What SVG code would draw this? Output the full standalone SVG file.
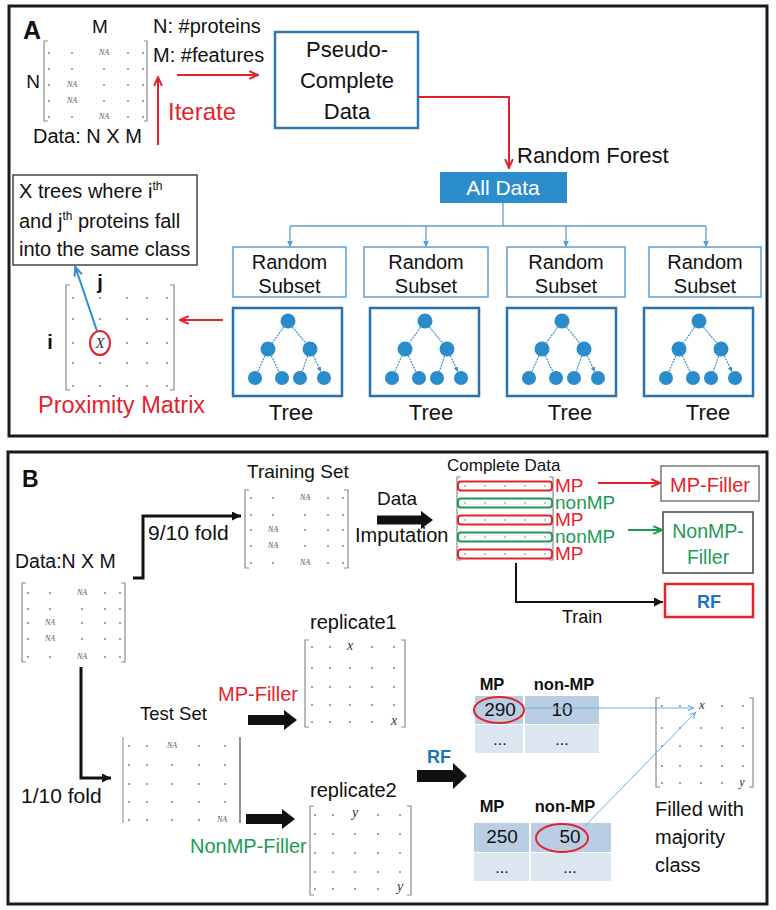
<svg xmlns="http://www.w3.org/2000/svg" width="776" height="910" viewBox="0 0 776 910">
<style>
.t{font-family:"Liberation Sans",Arial,sans-serif;fill:#111}
.b{font-weight:bold}
.m{text-anchor:middle}
.na{font-family:"Liberation Serif",serif;font-style:italic;font-size:8px;fill:#555;text-anchor:middle}
.iv{font-family:"Liberation Serif",serif;font-style:italic;font-size:14px;fill:#333;text-anchor:middle}
.br{fill:none;stroke:#8a8a8a;stroke-width:1.2}
.d circle{fill:#777}
.red{fill:#e3232c}
.grn{fill:#1d9a55}
.blu{fill:#1a75bc}
.frame{fill:none;stroke:#1a1a1a;stroke-width:3}
.rs{fill:#fff;stroke:#5d9fd3;stroke-width:1.5}
.tb{fill:#fff;stroke:#2672ad;stroke-width:2.5}
.nd{fill:#2a8ccb}
.te{stroke:#3d8fcb;stroke-width:1.2;stroke-dasharray:2 1;fill:none;marker-end:url(#mt)}
.bl{stroke:#5d9fd3;stroke-width:1.3;fill:none}
.rl{stroke:#e3232c;stroke-width:2;fill:none}
.kl{stroke:#111;stroke-width:3;fill:none}
</style>
<defs>
<marker id="mr" viewBox="0 0 10 10" refX="9" refY="5" markerWidth="11" markerHeight="11" markerUnits="userSpaceOnUse" orient="auto"><path d="M1,1.5 L9,5 L1,8.5" fill="none" stroke="#e3232c" stroke-width="1.8"/></marker>
<marker id="mg" viewBox="0 0 10 10" refX="9" refY="5" markerWidth="11" markerHeight="11" markerUnits="userSpaceOnUse" orient="auto"><path d="M1,1.5 L9,5 L1,8.5" fill="none" stroke="#1d9a55" stroke-width="1.8"/></marker>
<marker id="mk" viewBox="0 0 10 10" refX="10" refY="5" markerWidth="9" markerHeight="9" markerUnits="userSpaceOnUse" orient="auto"><path d="M0,0 L10,5 L0,10 z" fill="#111"/></marker>
<marker id="mb" viewBox="0 0 10 10" refX="10" refY="5" markerWidth="6" markerHeight="6" markerUnits="userSpaceOnUse" orient="auto"><path d="M0,0 L10,5 L0,10 z" fill="#5d9fd3"/></marker>
<marker id="mb2" viewBox="0 0 10 10" refX="10" refY="5" markerWidth="11" markerHeight="11" markerUnits="userSpaceOnUse" orient="auto"><path d="M1,1.5 L9,5 L1,8.5" fill="none" stroke="#2b8dcc" stroke-width="1.8"/></marker>
<marker id="mlb" viewBox="0 0 10 10" refX="10" refY="5" markerWidth="7" markerHeight="7" markerUnits="userSpaceOnUse" orient="auto"><path d="M1,1 L9,5 L1,9" fill="none" stroke="#6aaee0" stroke-width="1.5"/></marker>
<marker id="mt" viewBox="0 0 10 10" refX="10" refY="5" markerWidth="4.5" markerHeight="4.5" markerUnits="userSpaceOnUse" orient="auto"><path d="M0,0 L10,5 L0,10 z" fill="#3d8fcb"/></marker>
<g id="tree">
<path class="te" d="M50.6,19.1 L39.4,34.9 M59.4,19.1 L72.6,34.9 M31.9,47.8 L24.9,63.6 M38.3,47.8 L45.9,63.7 M74.6,48.1 L69.3,63.4 M80.3,47.8 L87.9,63.7"/>
<circle class="nd" cx="55" cy="13" r="7.5"/>
<circle class="nd" cx="35" cy="41" r="7.5"/><circle class="nd" cx="77" cy="41" r="7.5"/>
<circle class="nd" cx="22" cy="70" r="7"/><circle class="nd" cx="49" cy="70" r="7"/><circle class="nd" cx="67" cy="70" r="7"/><circle class="nd" cx="91" cy="70" r="7"/>
</g>
</defs>
<rect width="776" height="910" fill="#fff"/>

<!-- Panel A -->
<g id="panelA">
<rect class="frame" x="9" y="6" width="758" height="430"/>
<text class="t b" x="23" y="39" font-size="25">A</text>
</g>

<g id="dataMatrixA">
<text class="t m" x="100" y="33" font-size="19">M</text>
<text class="t m" x="33" y="88" font-size="19">N</text>
<path class="br" d="M48,41 H44 V121 H48 M144,41 H147 V121 H144"/>
<g class="d">
<circle cx="49" cy="53" r="0.9"/><circle cx="72" cy="53" r="0.9"/><circle cx="128" cy="53" r="0.9"/><circle cx="143" cy="53" r="0.9"/>
<circle cx="49" cy="69" r="0.9"/><circle cx="72" cy="69" r="0.9"/><circle cx="104" cy="69" r="0.9"/><circle cx="128" cy="69" r="0.9"/><circle cx="143" cy="69" r="0.9"/>
<circle cx="49" cy="85" r="0.9"/><circle cx="104" cy="85" r="0.9"/><circle cx="128" cy="85" r="0.9"/><circle cx="143" cy="85" r="0.9"/>
<circle cx="49" cy="101" r="0.9"/><circle cx="104" cy="101" r="0.9"/><circle cx="128" cy="101" r="0.9"/><circle cx="143" cy="101" r="0.9"/>
<circle cx="49" cy="117" r="0.9"/><circle cx="72" cy="117" r="0.9"/><circle cx="128" cy="117" r="0.9"/><circle cx="143" cy="117" r="0.9"/>
</g>
<text class="na" x="104" y="55">NA</text><text class="na" x="72" y="87">NA</text><text class="na" x="72" y="103">NA</text><text class="na" x="104" y="119">NA</text>
<text class="t" x="33" y="143" font-size="20">Data: N X M</text>
<text class="t" x="153" y="33" font-size="20">N: #proteins</text>
<text class="t" x="153" y="62" font-size="20">M: #features</text>
<text class="t red" x="168" y="120" font-size="24">Iterate</text>
</g>

<g id="pseudoComplete">
<rect x="275" y="32" width="143" height="96" fill="#fff" stroke="#2e78b4" stroke-width="2.5"/>
<text class="t m" x="347" y="57" font-size="22">Pseudo-</text>
<text class="t m" x="347" y="88" font-size="22">Complete</text>
<text class="t m" x="347" y="119" font-size="22">Data</text>
</g>

<g id="allData">
<rect x="440" y="172" width="127" height="31" fill="#2b8dcc"/>
<text class="t m" x="503" y="195" font-size="21" style="fill:#fff">All Data</text>
<text class="t" x="517" y="163" font-size="22">Random Forest</text>
</g>

<g id="subset1"><rect class="rs" x="233" y="247" width="113" height="50"/><text class="t m" x="289.5" y="269" font-size="20">Random</text><text class="t m" x="289.5" y="293" font-size="20">Subset</text></g>
<g id="subset2"><rect class="rs" x="364" y="247" width="124" height="50"/><text class="t m" x="426" y="269" font-size="20">Random</text><text class="t m" x="426" y="293" font-size="20">Subset</text></g>
<g id="subset3"><rect class="rs" x="507" y="247" width="118" height="50"/><text class="t m" x="566" y="269" font-size="20">Random</text><text class="t m" x="566" y="293" font-size="20">Subset</text></g>
<g id="subset4"><rect class="rs" x="649" y="247" width="112" height="50"/><text class="t m" x="705" y="269" font-size="20">Random</text><text class="t m" x="705" y="293" font-size="20">Subset</text></g>

<g id="tree1"><rect class="tb" x="233" y="308" width="109" height="88"/><use href="#tree" x="233" y="308"/><text class="t m" x="291" y="420" font-size="22">Tree</text></g>
<g id="tree2"><rect class="tb" x="370" y="308" width="109" height="88"/><use href="#tree" x="370" y="308"/><text class="t m" x="431" y="420" font-size="22">Tree</text></g>
<g id="tree3"><rect class="tb" x="507" y="308" width="109" height="88"/><use href="#tree" x="507" y="308"/><text class="t m" x="570" y="420" font-size="22">Tree</text></g>
<g id="tree4"><rect class="tb" x="644" y="308" width="109" height="88"/><use href="#tree" x="644" y="308"/><text class="t m" x="708" y="420" font-size="22">Tree</text></g>

<g id="xTreesBox">
<rect x="13" y="175" width="184" height="90" fill="#fff" stroke="#444" stroke-width="1.5"/>
<text class="t" x="19" y="198" font-size="20">X trees where i<tspan font-size="12" dy="-8">th</tspan></text>
<text class="t" x="19" y="228" font-size="20">and j<tspan font-size="12" dy="-8">th</tspan><tspan dy="8"> proteins fall</tspan></text>
<text class="t" x="19" y="256" font-size="20">into the same class</text>
</g>

<g id="proximityMatrix">
<text class="t b m" x="100" y="289" font-size="20">j</text>
<text class="t b m" x="50" y="349" font-size="20">i</text>
<path class="br" d="M70,285 H66 V390 H70 M170,285 H174 V390 H170"/>
<g class="d">
<circle cx="73" cy="298" r="0.9"/><circle cx="100" cy="298" r="0.9"/><circle cx="127" cy="298" r="0.9"/><circle cx="147" cy="298" r="0.9"/><circle cx="167" cy="298" r="0.9"/>
<circle cx="73" cy="319" r="0.9"/><circle cx="100" cy="319" r="0.9"/><circle cx="127" cy="319" r="0.9"/><circle cx="147" cy="319" r="0.9"/><circle cx="167" cy="319" r="0.9"/>
<circle cx="73" cy="343" r="0.9"/><circle cx="127" cy="343" r="0.9"/><circle cx="147" cy="343" r="0.9"/><circle cx="167" cy="343" r="0.9"/>
<circle cx="73" cy="363" r="0.9"/><circle cx="100" cy="363" r="0.9"/><circle cx="127" cy="363" r="0.9"/><circle cx="147" cy="363" r="0.9"/><circle cx="167" cy="363" r="0.9"/>
<circle cx="73" cy="386" r="0.9"/><circle cx="100" cy="386" r="0.9"/><circle cx="127" cy="386" r="0.9"/><circle cx="147" cy="386" r="0.9"/><circle cx="167" cy="386" r="0.9"/>
</g>
<text class="iv" x="100" y="348" style="font-size:15px">X</text>
<ellipse cx="100" cy="343" rx="10" ry="12" fill="none" stroke="#e3232c" stroke-width="2"/>
<text class="t red" x="38" y="413" font-size="23.5">Proximity Matrix</text>
</g>

<g id="connectorsA">
<path class="rl" d="M177,75 H258" marker-end="url(#mr)"/>
<path class="rl" d="M158,145 V77" marker-end="url(#mr)"/>
<path class="rl" d="M418,97 H509 V168" marker-end="url(#mr)"/>
<path class="bl" d="M503,203 V226 M290,226 H706"/>
<path class="bl" d="M290,226 V247" marker-end="url(#mb)"/>
<path class="bl" d="M426,226 V247" marker-end="url(#mb)"/>
<path class="bl" d="M566,226 V247" marker-end="url(#mb)"/>
<path class="bl" d="M706,226 V247" marker-end="url(#mb)"/>
<path class="rl" d="M223,320 H180" marker-end="url(#mr)"/>
<path d="M97,331 L75,266" stroke="#2b8dcc" stroke-width="2" fill="none" marker-end="url(#mb2)"/>
</g>

<!-- Panel B -->
<g id="panelB">
<rect class="frame" x="8" y="452" width="759" height="452"/>
<text class="t b" x="22" y="487" font-size="23">B</text>
</g>

<g id="dataMatrixB">
<text class="t" x="15" y="568" font-size="19.5">Data:N X M</text>
<path class="br" d="M26,583 H22 V662 H26 M121,583 H125 V662 H121"/>
<g class="d">
<circle cx="28" cy="593" r="0.9"/><circle cx="50" cy="593" r="0.9"/><circle cx="105" cy="593" r="0.9"/><circle cx="120" cy="593" r="0.9"/>
<circle cx="28" cy="609" r="0.9"/><circle cx="50" cy="609" r="0.9"/><circle cx="82" cy="609" r="0.9"/><circle cx="105" cy="609" r="0.9"/><circle cx="120" cy="609" r="0.9"/>
<circle cx="28" cy="623" r="0.9"/><circle cx="82" cy="623" r="0.9"/><circle cx="105" cy="623" r="0.9"/><circle cx="120" cy="623" r="0.9"/>
<circle cx="28" cy="639" r="0.9"/><circle cx="82" cy="639" r="0.9"/><circle cx="105" cy="639" r="0.9"/><circle cx="120" cy="639" r="0.9"/>
<circle cx="28" cy="657" r="0.9"/><circle cx="50" cy="657" r="0.9"/><circle cx="105" cy="657" r="0.9"/><circle cx="120" cy="657" r="0.9"/>
</g>
<text class="na" x="82" y="595">NA</text><text class="na" x="50" y="625">NA</text><text class="na" x="50" y="641">NA</text><text class="na" x="82" y="659">NA</text>
</g>

<g id="trainingSet">
<text class="t" x="247" y="478" font-size="19">Training Set</text>
<path class="br" d="M249,490 H245 V568 H249 M344,490 H348 V568 H344"/>
<g class="d">
<circle cx="251" cy="498" r="0.9"/><circle cx="273" cy="498" r="0.9"/><circle cx="328" cy="498" r="0.9"/><circle cx="343" cy="498" r="0.9"/>
<circle cx="251" cy="515" r="0.9"/><circle cx="273" cy="515" r="0.9"/><circle cx="305" cy="515" r="0.9"/><circle cx="328" cy="515" r="0.9"/><circle cx="343" cy="515" r="0.9"/>
<circle cx="251" cy="530" r="0.9"/><circle cx="305" cy="530" r="0.9"/><circle cx="328" cy="530" r="0.9"/><circle cx="343" cy="530" r="0.9"/>
<circle cx="251" cy="546" r="0.9"/><circle cx="305" cy="546" r="0.9"/><circle cx="328" cy="546" r="0.9"/><circle cx="343" cy="546" r="0.9"/>
<circle cx="251" cy="563" r="0.9"/><circle cx="273" cy="563" r="0.9"/><circle cx="328" cy="563" r="0.9"/><circle cx="343" cy="563" r="0.9"/>
</g>
<text class="na" x="305" y="500">NA</text><text class="na" x="273" y="532">NA</text><text class="na" x="273" y="548">NA</text><text class="na" x="305" y="565">NA</text>
<text class="t" x="148" y="540" font-size="21">9/10 fold</text>
</g>

<g id="imputation">
<text class="t" x="377" y="505" font-size="19">Data</text>
<polygon points="377,515.5 421,515.5 421,511 433,520 421,529 421,524.5 377,524.5" fill="#111"/>
<text class="t" x="355" y="542" font-size="20">Imputation</text>
</g>

<g id="completeData">
<text class="t" x="447" y="471" font-size="17">Complete Data</text>
<path class="br" d="M461,477 H457 V560 H461 M549,477 H553 V560 H549"/>
<rect x="458" y="481.5" width="94" height="9" rx="3" fill="#fff" stroke="#e3232c" stroke-width="2"/>
<rect x="458" y="498.5" width="94" height="9" rx="3" fill="#fff" stroke="#1d9a55" stroke-width="2"/>
<rect x="458" y="515.5" width="94" height="9" rx="3" fill="#fff" stroke="#e3232c" stroke-width="2"/>
<rect x="458" y="532.5" width="94" height="9" rx="3" fill="#fff" stroke="#1d9a55" stroke-width="2"/>
<rect x="458" y="549.5" width="94" height="9" rx="3" fill="#fff" stroke="#e3232c" stroke-width="2"/>
<g class="d">
<circle cx="465" cy="486" r="0.8"/><circle cx="485" cy="486" r="0.8"/><circle cx="505" cy="486" r="0.8"/><circle cx="525" cy="486" r="0.8"/><circle cx="545" cy="486" r="0.8"/>
<circle cx="465" cy="503" r="0.8"/><circle cx="485" cy="503" r="0.8"/><circle cx="505" cy="503" r="0.8"/><circle cx="525" cy="503" r="0.8"/><circle cx="545" cy="503" r="0.8"/>
<circle cx="465" cy="520" r="0.8"/><circle cx="485" cy="520" r="0.8"/><circle cx="505" cy="520" r="0.8"/><circle cx="525" cy="520" r="0.8"/><circle cx="545" cy="520" r="0.8"/>
<circle cx="465" cy="537" r="0.8"/><circle cx="485" cy="537" r="0.8"/><circle cx="505" cy="537" r="0.8"/><circle cx="525" cy="537" r="0.8"/><circle cx="545" cy="537" r="0.8"/>
<circle cx="465" cy="554" r="0.8"/><circle cx="485" cy="554" r="0.8"/><circle cx="505" cy="554" r="0.8"/><circle cx="525" cy="554" r="0.8"/><circle cx="545" cy="554" r="0.8"/>
</g>
<text class="t red" x="555" y="492" font-size="19">MP</text>
<text class="t grn" x="555" y="509" font-size="19">nonMP</text>
<text class="t red" x="555" y="526" font-size="19">MP</text>
<text class="t grn" x="555" y="543" font-size="19">nonMP</text>
<text class="t red" x="555" y="560" font-size="19">MP</text>
</g>

<g id="mpFiller"><rect x="661" y="466" width="98" height="35" fill="#fff" stroke="#777" stroke-width="1.5"/><text class="t red m" x="710" y="492" font-size="20">MP-Filler</text></g>
<g id="nonMpFiller"><rect x="663" y="512" width="90" height="61" fill="#fff" stroke="#444" stroke-width="1.5"/><text class="t grn m" x="708" y="538" font-size="19.5">NonMP-</text><text class="t grn m" x="708" y="564" font-size="19.5">Filler</text></g>
<g id="rfBox"><rect x="665" y="584" width="88" height="33" fill="#fff" stroke="#e3232c" stroke-width="2.5"/><text class="t b blu m" x="709" y="608" font-size="18">RF</text></g>
<g id="trainLabel"><text class="t" x="562" y="623" font-size="18">Train</text></g>

<g id="testSet">
<text class="t" x="140" y="720" font-size="18.5">Test Set</text>
<path d="M123,737 V823" stroke="#999" stroke-width="1.2"/>
<path d="M240,737 V823" stroke="#555" stroke-width="1.3"/>
<g class="d">
<circle cx="129" cy="746" r="0.9"/><circle cx="147" cy="746" r="0.9"/><circle cx="199" cy="746" r="0.9"/><circle cx="225" cy="746" r="0.9"/>
<circle cx="129" cy="765" r="0.9"/><circle cx="147" cy="765" r="0.9"/><circle cx="172" cy="765" r="0.9"/><circle cx="199" cy="765" r="0.9"/><circle cx="225" cy="765" r="0.9"/>
<circle cx="129" cy="784" r="0.9"/><circle cx="147" cy="784" r="0.9"/><circle cx="172" cy="784" r="0.9"/><circle cx="199" cy="784" r="0.9"/><circle cx="225" cy="784" r="0.9"/>
<circle cx="129" cy="802" r="0.9"/><circle cx="147" cy="802" r="0.9"/><circle cx="172" cy="802" r="0.9"/><circle cx="199" cy="802" r="0.9"/><circle cx="225" cy="802" r="0.9"/>
<circle cx="129" cy="820" r="0.9"/><circle cx="147" cy="820" r="0.9"/><circle cx="172" cy="820" r="0.9"/><circle cx="199" cy="820" r="0.9"/>
</g>
<text class="na" x="172" y="748">NA</text><text class="na" x="222" y="822">NA</text>
<text class="t" x="21" y="803" font-size="21">1/10 fold</text>
</g>

<g id="fillers">
<text class="t red" x="218" y="701" font-size="20">MP-Filler</text>
<polygon points="248,715 284,715 284,710 297,720 284,730 284,725 248,725" fill="#111"/>
<polygon points="246,814 282,814 282,809 295,819 282,829 282,824 246,824" fill="#111"/>
<text class="t grn" x="190" y="853" font-size="20">NonMP-Filler</text>
</g>

<g id="replicate1">
<text class="t" x="310" y="629" font-size="20">replicate1</text>
<path class="br" d="M309,640 H305 V727 H309 M401,640 H405 V727 H401"/>
<g class="d">
<circle cx="312" cy="647" r="0.9"/><circle cx="330" cy="647" r="0.9"/><circle cx="372" cy="647" r="0.9"/><circle cx="394" cy="647" r="0.9"/>
<circle cx="312" cy="668" r="0.9"/><circle cx="330" cy="668" r="0.9"/><circle cx="350" cy="668" r="0.9"/><circle cx="372" cy="668" r="0.9"/><circle cx="394" cy="668" r="0.9"/>
<circle cx="312" cy="687" r="0.9"/><circle cx="330" cy="687" r="0.9"/><circle cx="350" cy="687" r="0.9"/><circle cx="372" cy="687" r="0.9"/><circle cx="394" cy="687" r="0.9"/>
<circle cx="312" cy="705" r="0.9"/><circle cx="330" cy="705" r="0.9"/><circle cx="350" cy="705" r="0.9"/><circle cx="372" cy="705" r="0.9"/><circle cx="394" cy="705" r="0.9"/>
<circle cx="312" cy="722" r="0.9"/><circle cx="330" cy="722" r="0.9"/><circle cx="350" cy="722" r="0.9"/><circle cx="372" cy="722" r="0.9"/>
</g>
<text class="iv" x="350" y="650">x</text><text class="iv" x="394" y="725">x</text>
</g>

<g id="replicate2">
<text class="t" x="310" y="797" font-size="20">replicate2</text>
<path class="br" d="M314,806 H310 V895 H314 M407,806 H411 V895 H407"/>
<g class="d">
<circle cx="315" cy="815" r="0.9"/><circle cx="333" cy="815" r="0.9"/><circle cx="378" cy="815" r="0.9"/><circle cx="400" cy="815" r="0.9"/>
<circle cx="315" cy="834" r="0.9"/><circle cx="333" cy="834" r="0.9"/><circle cx="355" cy="834" r="0.9"/><circle cx="378" cy="834" r="0.9"/><circle cx="400" cy="834" r="0.9"/>
<circle cx="315" cy="853" r="0.9"/><circle cx="333" cy="853" r="0.9"/><circle cx="355" cy="853" r="0.9"/><circle cx="378" cy="853" r="0.9"/><circle cx="400" cy="853" r="0.9"/>
<circle cx="315" cy="872" r="0.9"/><circle cx="333" cy="872" r="0.9"/><circle cx="355" cy="872" r="0.9"/><circle cx="378" cy="872" r="0.9"/><circle cx="400" cy="872" r="0.9"/>
<circle cx="315" cy="889" r="0.9"/><circle cx="333" cy="889" r="0.9"/><circle cx="355" cy="889" r="0.9"/><circle cx="378" cy="889" r="0.9"/>
</g>
<text class="iv" x="355" y="817">y</text><text class="iv" x="400" y="891">y</text>
</g>

<g id="rfArrow">
<text class="t b blu" x="427" y="763" font-size="18">RF</text>
<polygon points="417,770 453,770 453,763 467,776 453,789 453,782 417,782" fill="#111"/>
</g>

<g id="table1">
<text class="t b m" x="492" y="690" font-size="16.5">MP</text>
<text class="t b m" x="564" y="690" font-size="16.5">non-MP</text>
<rect x="475" y="696" width="124" height="28" fill="#b9cde5"/>
<rect x="475" y="725" width="124" height="28" fill="#dce6f1"/>
<path d="M524,696 V753" stroke="#fff" stroke-width="2"/>
<text class="t m" x="500" y="716" font-size="19">290</text>
<text class="t m" x="562" y="716" font-size="19">10</text>
<text class="t m" x="500" y="745" font-size="16">...</text>
<text class="t m" x="562" y="745" font-size="16">...</text>
<ellipse cx="499" cy="710" rx="25" ry="13" fill="none" stroke="#e3232c" stroke-width="2"/>
</g>

<g id="table2">
<text class="t b m" x="492" y="812" font-size="16.5">MP</text>
<text class="t b m" x="565" y="812" font-size="16.5">non-MP</text>
<rect x="474" y="823" width="137" height="29" fill="#b9cde5"/>
<rect x="474" y="853" width="137" height="28" fill="#dce6f1"/>
<path d="M530,823 V881" stroke="#fff" stroke-width="2"/>
<text class="t m" x="502" y="843" font-size="19">250</text>
<text class="t m" x="570" y="843" font-size="19">50</text>
<text class="t m" x="502" y="873" font-size="16">...</text>
<text class="t m" x="570" y="873" font-size="16">...</text>
<ellipse cx="562" cy="838" rx="26" ry="14" fill="none" stroke="#e3232c" stroke-width="2"/>
</g>

<g id="resultMatrix">
<path class="br" d="M660,698 H656 V787 H660 M749,698 H753 V787 H749"/>
<g class="d">
<circle cx="662" cy="706" r="0.9"/><circle cx="680" cy="706" r="0.9"/><circle cx="722" cy="706" r="0.9"/><circle cx="743" cy="706" r="0.9"/>
<circle cx="662" cy="728" r="0.9"/><circle cx="680" cy="728" r="0.9"/><circle cx="701" cy="728" r="0.9"/><circle cx="722" cy="728" r="0.9"/><circle cx="743" cy="728" r="0.9"/>
<circle cx="662" cy="746" r="0.9"/><circle cx="680" cy="746" r="0.9"/><circle cx="701" cy="746" r="0.9"/><circle cx="722" cy="746" r="0.9"/><circle cx="743" cy="746" r="0.9"/>
<circle cx="662" cy="766" r="0.9"/><circle cx="680" cy="766" r="0.9"/><circle cx="701" cy="766" r="0.9"/><circle cx="722" cy="766" r="0.9"/><circle cx="743" cy="766" r="0.9"/>
<circle cx="662" cy="783" r="0.9"/><circle cx="680" cy="783" r="0.9"/><circle cx="701" cy="783" r="0.9"/><circle cx="722" cy="783" r="0.9"/>
</g>
<text class="iv" x="702" y="709" style="font-size:13px">x</text><text class="iv" x="742" y="786" style="font-size:12px">y</text>
<text class="t" x="655" y="816" font-size="20">Filled with</text>
<text class="t" x="655" y="844" font-size="20">majority</text>
<text class="t" x="655" y="872" font-size="20">class</text>
</g>

<g id="connectorsB">
<path class="kl" d="M133,578 H143 V516 H241" marker-end="url(#mk)"/>
<path class="kl" d="M81,667 V778 H111" marker-end="url(#mk)"/>
<path class="rl" d="M598,483 H660" marker-end="url(#mr)"/>
<path d="M628,530 H662" stroke="#1d9a55" stroke-width="2" fill="none" marker-end="url(#mg)"/>
<path d="M516,563 V602 H663" stroke="#111" stroke-width="2" fill="none" marker-end="url(#mk)"/>
<path d="M524,708 H694" stroke="#6aaee0" stroke-width="1" fill="none" marker-end="url(#mlb)"/>
<path d="M585,826 L696,712" stroke="#6aaee0" stroke-width="1" fill="none" marker-end="url(#mlb)"/>
</g>
</svg>
